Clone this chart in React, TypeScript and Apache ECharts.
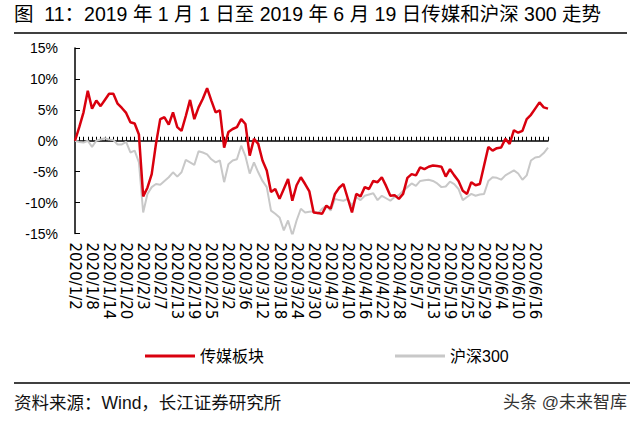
import React, { useEffect, useRef } from "react";
import * as echarts from "echarts";

const dates = [
  "2020/1/2","2020/1/3","2020/1/6","2020/1/7","2020/1/8","2020/1/9","2020/1/10","2020/1/13","2020/1/14","2020/1/15","2020/1/16","2020/1/17","2020/1/20","2020/1/21","2020/1/22","2020/1/23",
  "2020/2/3","2020/2/4","2020/2/5","2020/2/6","2020/2/7","2020/2/10","2020/2/11","2020/2/12","2020/2/13","2020/2/14","2020/2/17","2020/2/18","2020/2/19","2020/2/20","2020/2/21","2020/2/24","2020/2/25","2020/2/26","2020/2/27","2020/2/28",
  "2020/3/2","2020/3/3","2020/3/4","2020/3/5","2020/3/6","2020/3/9","2020/3/10","2020/3/11","2020/3/12","2020/3/13","2020/3/16","2020/3/17","2020/3/18","2020/3/19","2020/3/20","2020/3/23","2020/3/24","2020/3/25","2020/3/26","2020/3/27","2020/3/30","2020/3/31",
  "2020/4/1","2020/4/2","2020/4/3","2020/4/7","2020/4/8","2020/4/9","2020/4/10","2020/4/13","2020/4/14","2020/4/15","2020/4/16","2020/4/17","2020/4/20","2020/4/21","2020/4/22","2020/4/23","2020/4/24","2020/4/27","2020/4/28","2020/4/29","2020/4/30",
  "2020/5/6","2020/5/7","2020/5/8","2020/5/11","2020/5/12","2020/5/13","2020/5/14","2020/5/15","2020/5/18","2020/5/19","2020/5/20","2020/5/21","2020/5/22","2020/5/25","2020/5/26","2020/5/27","2020/5/28","2020/5/29",
  "2020/6/1","2020/6/2","2020/6/3","2020/6/4","2020/6/5","2020/6/8","2020/6/9","2020/6/10","2020/6/11","2020/6/12","2020/6/15","2020/6/16","2020/6/17","2020/6/18","2020/6/19"
];

const mediaValues = [
  0, 2.2, 4.6, 8.1, 5.2, 6.5, 5.6, 6.6, 7.6, 7.6,
  6.0, 5.3, 4.5, 3.0, 2.8, 1.0, -9.0, -7.6, -5.4, -0.5,
  3.5, 3.8, 2.6, 4.6, 2.2, 1.6, 4.0, 6.6, 3.5, 5.4,
  6.8, 8.5, 6.5, 4.6, 4.9, -1.1, 1.4, 1.9, 2.2, 3.5,
  2.7, -2.4, 0.3, -0.5, -3.2, -4.8, -8.3, -7.8, -9.4, -7.8,
  -6.2, -9.7, -7.2, -5.9, -7.0, -8.2, -11.6, -11.7, -11.8, -10.5,
  -11.0, -8.6, -7.6, -7.0, -9.3, -11.6, -8.6, -9.0, -7.5, -7.8,
  -6.5, -6.7, -5.9, -7.3, -8.9, -8.8, -9.4, -8.6, -6.0, -5.4,
  -5.6, -4.3, -4.6, -4.2, -4.0, -4.1, -4.2, -5.8, -4.6, -5.6,
  -6.5, -8.1, -8.6, -6.7, -7.2, -7.0, -4.0, -1.0, -1.6, -1.2,
  -1.1, 0.3, -0.5, 1.7, 1.3, 1.6, 3.5, 4.2, 5.2, 6.2,
  5.4, 5.2
];

const hs300Values = [
  0, -0.2, -0.3, 0, -1.0, 0, 0.2, 0.4, 0.2, 0.1,
  -0.6, -0.6, -0.2, -1.9, -1.6, -3.5, -11.6, -8.6, -7.5, -7.0,
  -7.1, -6.5, -5.9, -5.1, -5.8, -5.1, -3.1, -3.5, -3.9, -1.7,
  -1.9, -2.2, -3.0, -3.5, -3.2, -6.7, -3.8, -3.2, -3.0, -0.8,
  -2.5, -5.3, -3.5, -5.1, -6.5, -7.5, -11.3, -11.8, -12.4, -14.5,
  -12.9, -15.3, -12.9, -11.0, -11.6, -11.5, -11.4, -11.8, -11.0, -10.5,
  -11.3, -9.4, -9.6, -9.7, -9.4, -10.5, -9.1, -9.6, -8.9, -8.7,
  -8.5, -9.6, -8.9, -9.3, -9.7, -9.1, -8.8, -8.1, -7.5, -6.9,
  -7.3, -6.5, -6.4, -6.3, -6.5, -6.9, -7.5, -7.4, -6.6, -7.0,
  -7.8, -9.6, -9.1, -8.6, -8.9, -8.7, -8.6, -6.5, -5.9, -6.0,
  -6.3, -5.6, -5.2, -4.8, -5.3, -6.3, -5.6, -3.2, -2.7, -2.6,
  -2.0, -1.1
];

const seriesNames = ["传媒板块", "沪深300"];
const yTicks = { min: -15, max: 15, step: 5 };
const titleText = "图  11：2019 年 1 月 1 日至 2019 年 6 月 19 日传媒和沪深 300 走势";
const sourceText = "资料来源：Wind，长江证券研究所";
const watermarkText = "头条 @未来智库";

const FONT = "'Liberation Sans', Arial, 'Noto Sans CJK SC', sans-serif";

export default function App() {
  const ref = useRef<HTMLDivElement>(null);
  useEffect(() => {
    if (!ref.current) return;
    const chart = echarts.init(ref.current, null, { renderer: "svg" });
    const option: any = {
      animation: false,
      backgroundColor: "#fff",
      grid: { left: 75, right: 92, top: 48, bottom: 187.5, containLabel: false },
      legend: {
        data: seriesNames,
        left: 140,
        top: 343,
        icon: "rect",
        itemWidth: 50,
        itemHeight: 3,
        itemGap: 131,
        textStyle: { fontSize: 16, color: "#000", fontFamily: FONT },
      },
      xAxis: [
        {
          type: "category",
          data: dates,
          boundaryGap: false,
          position: "bottom",
          axisLine: { onZero: true, lineStyle: { color: "#000", width: 1.5 } },
          axisTick: { inside: true, length: 4, interval: 0, lineStyle: { color: "#000", width: 1 } },
          axisLabel: { show: false },
          splitLine: { show: false },
        },
        {
          type: "category",
          data: dates,
          boundaryGap: false,
          position: "bottom",
          axisLine: { show: false, onZero: false },
          axisTick: { show: false },
          axisLabel: {
            rotate: -90,
            interval: 3,
            margin: 9,
            fontSize: 15,
            fontFamily: "'DejaVu Sans', sans-serif",
            color: "#000",
          },
          splitLine: { show: false },
        },
      ],
      yAxis: {
        type: "value",
        min: yTicks.min,
        max: yTicks.max,
        interval: yTicks.step,
        axisLine: { show: true, lineStyle: { color: "#000", width: 1.5 } },
        axisTick: { show: true, inside: true, length: 5, lineStyle: { color: "#000" } },
        splitLine: { show: false },
        axisLabel: { formatter: "{value}%", fontSize: 14, margin: 17, color: "#000", fontFamily: FONT },
      },
      series: [
        {
          name: seriesNames[0],
          type: "line",
          data: mediaValues,
          xAxisIndex: 0,
          showSymbol: false,
          symbol: "none",
          lineStyle: { color: "#D9000E", width: 2.5 },
          itemStyle: { color: "#D9000E" },
          z: 3,
        },
        {
          name: seriesNames[1],
          type: "line",
          data: hs300Values,
          xAxisIndex: 0,
          showSymbol: false,
          symbol: "none",
          lineStyle: { color: "#C8C8C8", width: 2 },
          itemStyle: { color: "#C8C8C8" },
          z: 2,
        },
      ],
      graphic: [
        {
          type: "text",
          left: 14,
          top: 4,
          style: { text: titleText, fontSize: 19.5, fill: "#000", fontFamily: FONT },
        },
        {
          type: "line",
          shape: { x1: 14, y1: 33, x2: 627, y2: 33 },
          style: { stroke: "#000", lineWidth: 1.5 },
        },
        {
          type: "line",
          shape: { x1: 14, y1: 383, x2: 630, y2: 383 },
          style: { stroke: "#000", lineWidth: 1.5 },
        },
        {
          type: "text",
          left: 14,
          top: 394,
          style: { text: sourceText, fontSize: 17.5, fill: "#111", fontFamily: FONT },
        },
        {
          type: "text",
          right: 13,
          top: 394,
          style: { text: watermarkText, fontSize: 17, fill: "#333", fontFamily: FONT },
        },
      ],
    };
    chart.setOption(option);
    return () => chart.dispose();
  }, []);
  return (
    <div
      ref={ref}
      style={{ position: "fixed", left: 0, top: 0, width: 640, height: 421 }}
    />
  );
}
